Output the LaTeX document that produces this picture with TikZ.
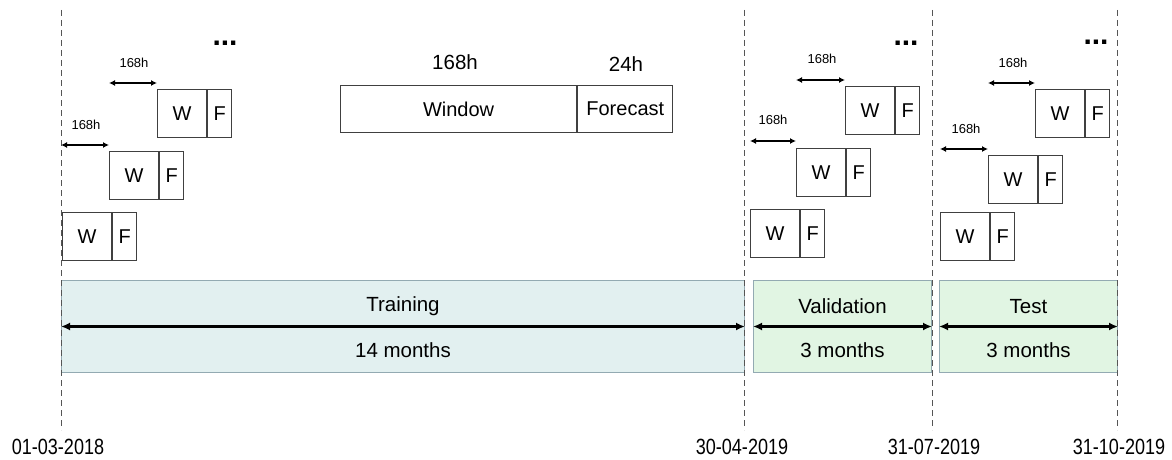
\documentclass[tikz,border=0pt]{standalone}
\usepackage{fontspec}
\setmainfont{Liberation Sans}
\usetikzlibrary{arrows.meta}
\definecolor{trainfill}{HTML}{E2F0F0}
\definecolor{greenfill}{HTML}{E1F5E3}
\definecolor{bandline}{HTML}{93AAB2}
\definecolor{boxline}{HTML}{404040}
\definecolor{dashline}{HTML}{555555}
\tikzset{
 wpart/.style={draw=boxline, line width=1.2pt, minimum height=48pt, minimum width=49pt, inner sep=0pt, anchor=north west, font=\fontsize{20}{20}\selectfont},
 fpart/.style={wpart, minimum width=24pt},
 band/.style={draw=bandline, line width=1pt, anchor=north west, inner sep=0pt, minimum height=92pt},
 bigarrow/.style={{Latex[length=9pt,width=8pt]}-{Latex[length=9pt,width=8pt]}, line width=2.6pt, black},
 smallarrow/.style={{Latex[length=6pt,width=6pt]}-{Latex[length=6pt,width=6pt]}, line width=1.2pt, black},
 sepline/.style={dashline, dash pattern=on 6pt off 4pt, line width=1pt},
 smalllabel/.style={font=\fontsize{13}{13}\selectfont, inner sep=0pt},
 lbl/.style={font=\fontsize{20.5}{20.5}\selectfont, inner sep=0pt},
 datelbl/.style={font=\fontsize{22}{22}\selectfont, inner sep=0pt, xscale=0.82},
 dotslbl/.style={font=\bfseries\fontsize{30}{30}\selectfont, inner sep=0pt, anchor=base}
}
\begin{document}
\begin{tikzpicture}[x=1pt,y=-1pt]
\useasboundingbox (0,0) rectangle (1172,460);
% separators
\foreach \n/\x in {s0/61,s1/744,s2/932,s3/1117}{
  \coordinate (\n t) at (\x,10);
  \coordinate (\n b) at (\x,430);
}
% bands
\node[band, fill=trainfill, minimum width=683pt] (train) at (61,280) {};
\node[band, fill=greenfill, minimum width=178pt] (valid) at (753,280) {};
\node[band, fill=greenfill, minimum width=178pt] (test) at (939,280) {};
\foreach \n in {s0,s1,s2,s3}{\draw[sepline] (\n t) -- (\n b);}
\draw[bigarrow] (train.west) -- (train.east);
\draw[bigarrow] (valid.west) -- (valid.east);
\draw[bigarrow] (test.west) -- (test.east);
\node[lbl] (trainname) at ([yshift=20pt]train.center) {Training};
\node[lbl] (traindur) at ([yshift=-24pt]train.center) {14 months};
\node[lbl] (validname) at ([yshift=20pt]valid.center) {Validation};
\node[lbl] (validdur) at ([yshift=-24pt]valid.center) {3 months};
\node[lbl] (testname) at ([yshift=20pt]test.center) {Test};
\node[lbl] (testdur) at ([yshift=-24pt]test.center) {3 months};
% dates
\node[datelbl] (d0) at (58,447) {01-03-2018};
\node[datelbl] (d1) at (742,447) {30-04-2019};
\node[datelbl] (d2) at (934,447) {31-07-2019};
\node[datelbl] (d3) at (1119,447) {31-10-2019};
% window / forecast
\node[wpart, minimum width=236pt, minimum height=47pt] (win) at (340,85) {Window};
\node[wpart, minimum width=95pt, minimum height=47pt, anchor=north west] (fc) at (win.north east) {Forecast};
\node[lbl] (winh) at (455,62) {168h};
\node[lbl] (fch) at (626,64) {24h};
% left set
\node[wpart] (a1w) at (62,212) {W};
\node[fpart] (a1f) at (a1w.north east) {F};
\node[wpart] (a2w) at (109,151) {W};
\node[fpart] (a2f) at (a2w.north east) {F};
\node[wpart] (a3w) at (157,89) {W};
\node[fpart] (a3f) at (a3w.north east) {F};
\coordinate (ay1) at (0,145);
\coordinate (ay2) at (0,83);
\draw[smallarrow] (s0t |- ay1) -- (a2w.west |- ay1);
\draw[smallarrow] (a2w.west |- ay2) -- (a3w.west |- ay2);
\node[smalllabel] (al1) at (86,125) {168h};
\node[smalllabel] (al2) at (134,63) {168h};
\node[dotslbl] (adots) at (225,46) {...};
% validation set
\node[wpart] (v1w) at (750,209) {W};
\node[fpart] (v1f) at (v1w.north east) {F};
\node[wpart] (v2w) at (796,148) {W};
\node[fpart] (v2f) at (v2w.north east) {F};
\node[wpart] (v3w) at (845,86) {W};
\node[fpart] (v3f) at (v3w.north east) {F};
\coordinate (vy1) at (0,141);
\coordinate (vy2) at (0,80);
\draw[smallarrow] (v1w.west |- vy1) -- (v2w.west |- vy1);
\draw[smallarrow] (v2w.west |- vy2) -- (v3w.west |- vy2);
\node[smalllabel] (vl1) at (773,120) {168h};
\node[smalllabel] (vl2) at (822,59) {168h};
\node[dotslbl] (vdots) at (906,46) {...};
% test set
\node[wpart] (t1w) at (940,212) {W};
\node[fpart] (t1f) at (t1w.north east) {F};
\node[wpart] (t2w) at (988,155) {W};
\node[fpart] (t2f) at (t2w.north east) {F};
\node[wpart] (t3w) at (1035,89) {W};
\node[fpart] (t3f) at (t3w.north east) {F};
\coordinate (ty1) at (0,149);
\coordinate (ty2) at (0,83);
\draw[smallarrow] (t1w.west |- ty1) -- (t2w.west |- ty1);
\draw[smallarrow] (t2w.west |- ty2) -- (t3w.west |- ty2);
\node[smalllabel] (tl1) at (966,129) {168h};
\node[smalllabel] (tl2) at (1013,63) {168h};
\node[dotslbl] (tdots) at (1096,45) {...};
\end{tikzpicture}
\end{document}
